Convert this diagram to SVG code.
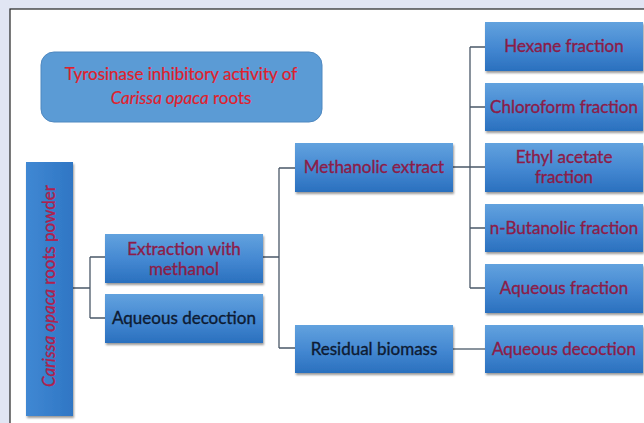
<svg xmlns="http://www.w3.org/2000/svg" width="644" height="423" viewBox="0 0 644 423">
<defs>
<linearGradient id="g" x1="0" y1="0" x2="0" y2="1">
<stop offset="0" stop-color="#62a2de"/>
<stop offset="0.55" stop-color="#4387d1"/>
<stop offset="1" stop-color="#2a70be"/>
</linearGradient>
<linearGradient id="gv" x1="0" y1="0" x2="1" y2="0">
<stop offset="0" stop-color="#4088d3"/>
<stop offset="1" stop-color="#2f76c4"/>
</linearGradient>
<filter id="sh" x="-10%" y="-10%" width="125%" height="130%">
<feDropShadow dx="1" dy="2" stdDeviation="1.2" flood-color="#000" flood-opacity="0.4"/>
</filter>
</defs>
<style>
.box{fill:url(#g);filter:url(#sh);}
.t{font-family:Lato,"Open Sans","Liberation Sans",sans-serif;font-size:17px;text-anchor:middle;stroke-width:0.35px;}
.m{fill:#8c1c48;stroke:#8c1c48;}
.k{fill:#0d1b33;stroke:#0d1b33;}
.r{fill:#e0202c;stroke:#e0202c;stroke-width:0.2px;}
.p{fill:#b0204c;stroke:#b0204c;}
.c{fill:none;stroke:#4a5868;stroke-width:1.3;}
</style>
<rect x="0" y="0" width="644" height="423" fill="#e1e5f3"/>
<rect x="10" y="9" width="640" height="430" fill="#ffffff" stroke="#222" stroke-width="1.2"/>

<g id="title">
<rect x="41" y="52" width="281" height="70" rx="13" fill="#5b9bd5" stroke="#4f88c0" stroke-width="1"/>
<text class="t r" x="181" y="80">Tyrosinase inhibitory activity of</text>
<text class="t r" x="181" y="104"><tspan font-style="italic">Carissa opaca</tspan> roots</text>
</g>

<g id="connectors">
<path class="c" d="M73 288H90M90 257V318M90 257H105M90 318H105"/>
<path class="c" d="M263 257H279M279 168V348M279 168H295M279 348H295"/>
<path class="c" d="M453 167H470M470 47V288M470 47H485M470 107H485M470 167H485M470 228H485M470 288H485"/>
<path class="c" d="M453 349H485"/>
</g>

<g id="powder">
<rect class="box" x="26" y="162" width="47" height="254" style="fill:url(#gv)"/>
<text class="t p" transform="translate(55 286) rotate(-90)"><tspan font-style="italic">Carissa opaca</tspan> roots powder</text>
</g>

<g id="extraction">
<rect class="box" x="105" y="234" width="158" height="49"/>
<text class="t m" x="184" y="255">Extraction with</text>
<text class="t m" x="184" y="275">methanol</text>
</g>

<g id="aqueous-decoction-1">
<rect class="box" x="105" y="294" width="158" height="49"/>
<text class="t k" x="184" y="324">Aqueous  decoction</text>
</g>

<g id="methanolic">
<rect class="box" x="295" y="143" width="158" height="49"/>
<text class="t m" x="374" y="173">Methanolic  extract</text>
</g>

<g id="residual">
<rect class="box" x="295" y="325" width="158" height="48"/>
<text class="t k" x="374" y="355">Residual biomass</text>
</g>

<g id="hexane">
<rect class="box" x="485" y="22" width="158" height="49"/>
<text class="t m" x="564" y="52">Hexane fraction</text>
</g>

<g id="chloroform">
<rect class="box" x="485" y="83" width="158" height="48"/>
<text class="t m" x="564" y="113">Chloroform  fraction</text>
</g>

<g id="ethyl">
<rect class="box" x="485" y="143" width="158" height="49"/>
<text class="t m" x="564" y="163">Ethyl acetate</text>
<text class="t m" x="564" y="183">fraction</text>
</g>

<g id="butanolic">
<rect class="box" x="485" y="204" width="158" height="48"/>
<text class="t m" x="564" y="234">n-Butanolic fraction</text>
</g>

<g id="aqueous-fraction">
<rect class="box" x="485" y="264" width="158" height="49"/>
<text class="t m" x="564" y="294">Aqueous  fraction</text>
</g>

<g id="aqueous-decoction-2">
<rect class="box" x="485" y="325" width="158" height="48"/>
<text class="t m" x="564" y="355">Aqueous  decoction</text>
</g>
</svg>
